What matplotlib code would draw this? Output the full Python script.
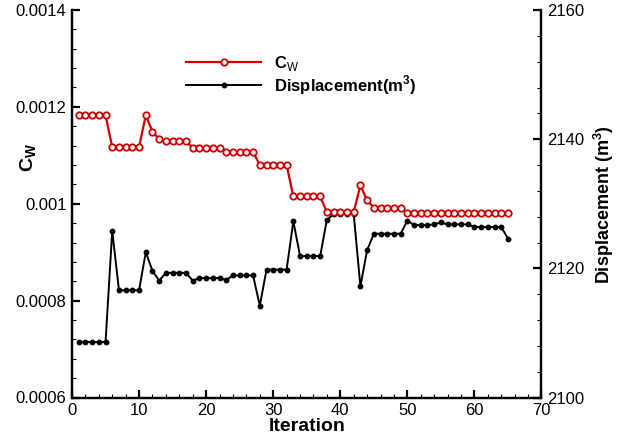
import matplotlib
matplotlib.use("Agg")
import matplotlib.pyplot as plt
from matplotlib.ticker import MultipleLocator, FuncFormatter

plt.rcParams["font.family"] = ["Liberation Sans", "DejaVu Sans"]
plt.rcParams["mathtext.fontset"] = "custom"
plt.rcParams["mathtext.rm"] = "Liberation Sans"
plt.rcParams["mathtext.bf"] = "Liberation Sans:bold"

iteration = list(range(1, 66))

cw = [0.001183, 0.001183, 0.001183, 0.001183, 0.001183,
      0.001117, 0.001117, 0.001117, 0.001117, 0.001117,
      0.001183, 0.001149, 0.001133, 0.00113, 0.00113,
      0.00113, 0.00113, 0.001115, 0.001115, 0.001115,
      0.001115, 0.001115, 0.001107, 0.001107, 0.001107,
      0.001107, 0.001107, 0.00108, 0.00108, 0.00108,
      0.00108, 0.00108, 0.001015, 0.001015, 0.001015,
      0.001015, 0.001015, 0.000983, 0.000983, 0.000983,
      0.000983, 0.000983, 0.001038, 0.001007, 0.000992,
      0.000992, 0.000992, 0.000992, 0.000992, 0.00098,
      0.00098, 0.00098, 0.00098, 0.00098, 0.00098,
      0.00098, 0.00098, 0.00098, 0.00098, 0.00098,
      0.00098, 0.00098, 0.00098, 0.00098, 0.00098]

displacement = [2108.6, 2108.6, 2108.6, 2108.6, 2108.6,
                2125.8, 2116.6, 2116.6, 2116.6, 2116.6,
                2122.5, 2119.6, 2118.1, 2119.3, 2119.3,
                2119.3, 2119.3, 2118.1, 2118.5, 2118.5,
                2118.5, 2118.5, 2118.2, 2118.9, 2118.9,
                2118.9, 2118.9, 2114.2, 2119.8, 2119.8,
                2119.8, 2119.8, 2127.3, 2121.9, 2121.9,
                2121.9, 2121.9, 2127.5, 2128.4, 2128.4,
                2128.4, 2128.4, 2117.2, 2122.8, 2125.35,
                2125.35, 2125.35, 2125.35, 2125.35, 2127.4,
                2126.7, 2126.7, 2126.7, 2126.8, 2127.1,
                2126.8, 2126.8, 2126.8, 2126.8, 2126.4,
                2126.4, 2126.4, 2126.4, 2126.4, 2124.6]

W, H = 622, 437
fig = plt.figure(figsize=(W / 100, H / 100), dpi=100)
ax = fig.add_axes([72 / W, (H - 397.5) / H, 469.5 / W, 387.5 / H])
ax2 = ax.twinx()

red = "#cc0000"
l1, = ax.plot(iteration, cw, color=red, lw=1.6, marker="o", ms=4.6,
              mfc="white", mec=red, mew=1.3, label=r"C$_\mathrm{W}$")
l2, = ax2.plot(iteration, displacement, color="black", lw=1.4, marker="o",
               ms=3.2, label=r"Displacement(m$^\mathbf{3}$)")
ax.set_zorder(ax2.get_zorder() + 1)
ax.patch.set_visible(False)

ax.set_xlim(0, 70)
ax.set_ylim(0.0006, 0.0014)
ax2.set_ylim(2100, 2160)

ax.xaxis.set_major_locator(MultipleLocator(10))
ax.xaxis.set_minor_locator(MultipleLocator(2))
ax.yaxis.set_major_locator(MultipleLocator(0.0002))
ax.yaxis.set_minor_locator(MultipleLocator(0.00004))
ax.yaxis.set_major_formatter(FuncFormatter(lambda v, p: f"{v:g}"))
ax2.yaxis.set_major_locator(MultipleLocator(20))
ax2.yaxis.set_minor_locator(MultipleLocator(4))

for a in (ax, ax2):
    a.spines["top"].set_visible(False)
    for s in a.spines.values():
        s.set_linewidth(1.6)
    a.tick_params(which="major", direction="in", length=6, width=1.6,
                  labelsize=12, pad=4)
    a.tick_params(which="minor", direction="in", length=3, width=0.8)
ax.tick_params(axis="y", which="both", right=False)
ax.tick_params(axis="x", which="both", top=False)

ax.set_xlabel("Iteration", fontsize=14, fontweight="bold")
ax.xaxis.set_label_coords(0.5, -0.052)
ax.set_ylabel(r"$\mathbf{C_W}$", fontsize=14)
ax.yaxis.set_label_coords(-0.072, 0.62)
ax2.set_ylabel(r"Displacement (m$^\mathbf{3}$)", fontsize=13, fontweight="bold")
ax2.yaxis.set_label_coords(1.107, 0.497)

leg = ax.legend(handles=[l1, l2], loc="upper left",
                bbox_to_anchor=(186 / W, 1 - 54 / H),
                bbox_transform=fig.transFigure, frameon=False,
                handlelength=4.5, handletextpad=0.75, labelspacing=0.02,
                borderpad=0, borderaxespad=0,
                prop={"size": 12, "weight": "bold"})

fig.savefig("out.png", dpi=100)
